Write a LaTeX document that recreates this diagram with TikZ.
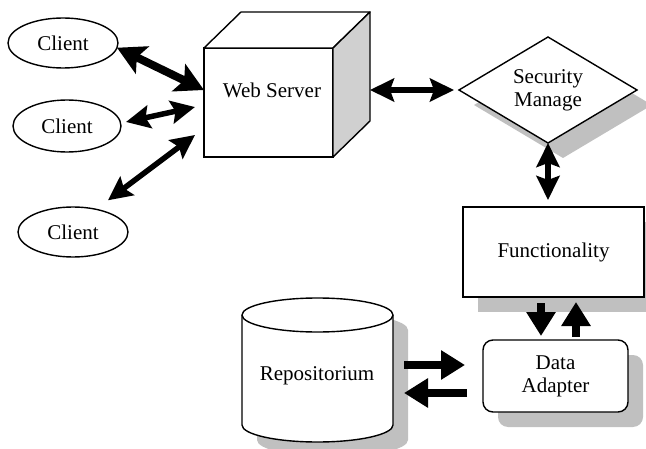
\documentclass[tikz,border=0pt]{standalone}
\usepackage{fontspec}
\setmainfont{Liberation Serif}
\usetikzlibrary{arrows.meta,shapes.geometric,shadows,calc}
\definecolor{shadowgray}{RGB}{192,192,192}
\definecolor{sidegray}{RGB}{208,208,208}
\begin{document}
\begin{tikzpicture}[x=1pt,y=1pt,
  every node/.style={font=\fontsize{21}{23}\selectfont},
  box/.style={draw, line width=1.4pt, fill=white, inner sep=0pt, outer sep=0pt},
  shadowed/.style={drop shadow={shadow xshift=15pt, shadow yshift=-15pt, fill=shadowgray, opacity=1}},
  client/.style={box, ellipse, minimum width=110pt, minimum height=50pt},
  edge3d/.style={line width=1.4pt, line join=round},
  twoway/.style={line width=5.5pt, {Stealth[length=24pt,width=23pt,inset=4pt]}-{Stealth[length=24pt,width=23pt,inset=4pt]}},
  bigway/.style={line width=8pt, {Stealth[length=28pt,width=30pt,inset=6pt]}-{Stealth[length=28pt,width=30pt,inset=6pt]}},
  oneway/.style={line width=8pt, -{Triangle[length=24pt,width=28pt]}},
]
\clip (0,0) rectangle (646,448);

% clients
\node[client] (c1) at (63,405) {Client};
\node[client, minimum width=108pt, minimum height=52pt] (c2) at (67,322) {Client};
\node[client] (c3) at (73,216) {Client};

% web server as a cube: front face node, then top and side faces
\node[box, minimum width=129pt, minimum height=109pt] (ws) at (268.5,345.5) {};
\draw[edge3d, fill=white] (ws.north west) -- ++(37,36) -- ++(129,0) -- (ws.north east) -- cycle;
\draw[edge3d, fill=sidegray] (ws.north east) -- ++(37,36) -- ++(0,-109) -- (ws.south east) -- cycle;
\node (wstext) at (272,358) {Web Server};

% security manager
\node[box, diamond, aspect=1.68, minimum width=178pt, minimum height=106pt,
      align=center, shadowed] (sm) at (548,358) {Security\\Manage};

% functionality
\node[box, minimum width=181pt, minimum height=90pt, shadowed] (func) at (553.5,196) {Functionality};

% data adapter
\node[box, rounded corners=10pt, minimum width=145pt, minimum height=72pt,
      align=center, shadowed] (da) at (555.5,72) {Data\\Adapter};

% repository cylinder
\node[minimum width=151pt, minimum height=144pt, inner sep=0pt, outer sep=0pt] (repo) at (317.5,78) {};
\fill[shadowgray, shift={(15,-15)}] (242,133) -- (242,23)
  arc[start angle=180, end angle=360, x radius=75.5, y radius=17] -- (393,133)
  arc[start angle=0, end angle=180, x radius=75.5, y radius=17] -- cycle;
\draw[edge3d, fill=white] (242,133) -- (242,23)
  arc[start angle=180, end angle=360, x radius=75.5, y radius=17] -- (393,133)
  arc[start angle=0, end angle=180, x radius=75.5, y radius=17] -- cycle;
\draw[edge3d] (242,133) arc[start angle=180, end angle=360, x radius=75.5, y radius=17];
\node (repotext) at (317,72) {Repositorium};

% connectors
\draw[bigway] (c1.-5) -- ([yshift=12.5pt]ws.west);
\draw[twoway] ([shift={(5pt,4pt)}]c2.east) -- ([shift={(-9pt,-4.5pt)}]ws.west);
\draw[twoway] ([shift={(-4pt,14pt)}]c3.north east) -- ([shift={(-9pt,-32.5pt)}]ws.west);
\draw[twoway] ([shift={(37pt,12.5pt)}]ws.east) -- ([xshift=-5pt]sm.west);
\draw[twoway] (sm.south) -- ($(sm.south |- func.north)+(0,7)$);

\draw[oneway] ([shift={(-12.5pt,-6pt)}]func.south) -- ([shift={(-14.5pt,4pt)}]da.north);
\draw[oneway] ([shift={(20.5pt,3pt)}]da.north) -- ([shift={(22.5pt,-5pt)}]func.south);
\draw[oneway] ([shift={(11pt,5pt)}]repo.east) -- ([shift={(-18pt,11pt)}]da.west);
\draw[oneway] ([shift={(-16pt,-17pt)}]da.west) -- ([shift={(11pt,-23pt)}]repo.east);
\end{tikzpicture}
\end{document}
